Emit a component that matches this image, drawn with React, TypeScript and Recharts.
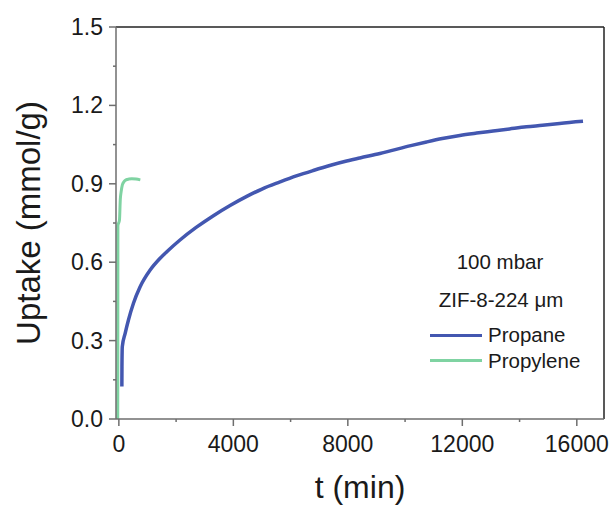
import React from 'react';
import { LineChart, Line, XAxis, YAxis, ReferenceLine, Legend } from 'recharts';

const propaneT = [105, 108, 120, 220, 335, 510, 743, 1093, 1441, 1675, 2136, 2700, 3303, 3900, 4468, 5000, 5630, 6200, 6793, 7400, 7958, 8422, 9120, 9585, 10200, 10750, 11300, 11913, 12500, 13075, 13650, 14240, 14800, 15400, 16217];
const propaneU = [0.124, 0.2, 0.277, 0.328, 0.379, 0.443, 0.506, 0.57, 0.615, 0.64, 0.685, 0.733, 0.778, 0.818, 0.852, 0.88, 0.907, 0.93, 0.951, 0.971, 0.987, 0.999, 1.016, 1.029, 1.046, 1.06, 1.073, 1.085, 1.094, 1.102, 1.11, 1.118, 1.124, 1.131, 1.139];

const propyleneT = [-40, -38, -36, -34, 20, 50, 80, 120, 180, 250, 350, 450, 600, 750];
const propyleneU = [0, 0.13, 0.4, 0.74, 0.76, 0.84, 0.87, 0.895, 0.908, 0.915, 0.918, 0.919, 0.918, 0.915];

const xTicks = [0, 2000, 4000, 6000, 8000, 10000, 12000, 14000, 16000];
const xLabelTicks = [0, 4000, 8000, 12000, 16000];
const yTicks = [0, 0.15, 0.3, 0.45, 0.6, 0.75, 0.9, 1.05, 1.2, 1.35, 1.5];
const yLabelTicks = ['0.0', '0.3', '0.6', '0.9', '1.2', '1.5'];

const seriesNames = ['Propane', 'Propylene'];
const legendHeader = ['100 mbar', 'ZIF-8-224 μm'];

const propaneData = propaneT.map((t, i) => ({ t, u: propaneU[i] }));
const propyleneData = propyleneT.map((t, i) => ({ t, u: propyleneU[i] }));

const FONT = '"Liberation Sans", Arial, sans-serif';
const BLUE = '#4357b0';
const GREEN = '#7fd3a2';
const AXIS = '#6e6e6e';

const XTick = (props: any) => {
  const { x, y, payload } = props;
  const v = payload.value;
  const major = xLabelTicks.includes(v);
  return (
    <g>
      <line x1={x} x2={x} y1={y} y2={y + (major ? 7 : 3)} stroke={AXIS} strokeWidth={1.5} />
      {major && (
        <text x={x} y={y + 33} textAnchor="middle" fontFamily={FONT} fontSize={23} fill="#1a1a1a">
          {String(v)}
        </text>
      )}
    </g>
  );
};

const YTick = (props: any) => {
  const { x, y, payload } = props;
  const v = payload.value as number;
  const lbl = v.toFixed(1);
  const major = yLabelTicks.includes(lbl) && Math.abs(v - parseFloat(lbl)) < 1e-6;
  return (
    <g>
      <line x1={x} x2={x - (major ? 7 : 3)} y1={y} y2={y} stroke={AXIS} strokeWidth={1.5} />
      {major && (
        <text x={x - 13} y={y + 8} textAnchor="end" fontFamily={FONT} fontSize={23} fill="#1a1a1a">
          {lbl}
        </text>
      )}
    </g>
  );
};

const LegendContent = () => (
  <div style={{ position: 'relative', width: 215, height: 140, fontFamily: FONT, fontSize: 20.5, color: '#1a1a1a' }}>
    <div style={{ position: 'absolute', left: 0, width: 200, top: 10, lineHeight: '24px', textAlign: 'center' }}>{legendHeader[0]}</div>
    <div style={{ position: 'absolute', left: 0, width: 202, top: 48, lineHeight: '24px', textAlign: 'center' }}>{legendHeader[1]}</div>
    {seriesNames.map((n, i) => (
      <div key={n} style={{ position: 'absolute', left: 30, top: 83 + i * 25.7, height: 24, display: 'flex', alignItems: 'center', lineHeight: '24px' }}>
        <span style={{ display: 'inline-block', width: 52, height: 3, background: i === 0 ? BLUE : GREEN, marginRight: 6 }} />
        <span>{n}</span>
      </div>
    ))}
  </div>
);

export default function App() {
  return (
    <div style={{ position: 'absolute', left: 0, top: 0, width: 615, height: 510, background: '#fff' }}>
      <LineChart width={615} height={510} margin={{ top: 27, right: 11, bottom: 0, left: 0 }}>
        <XAxis
          type="number"
          dataKey="t"
          domain={[-100, 16950]}
          allowDataOverflow
          ticks={xTicks}
          interval={0}
          height={91}
          tickSize={0}
          tickMargin={0}
          tickLine={false}
          axisLine={{ stroke: AXIS, strokeWidth: 1.5 }}
          tick={<XTick />}
          label={(p: any) => (
            <text x={360} y={498} textAnchor="middle" fontFamily={FONT} fontSize={32} fill="#1a1a1a">t (min)</text>
          )}
        />
        <YAxis
          type="number"
          dataKey="u"
          domain={[0, 1.5]}
          allowDataOverflow
          ticks={yTicks}
          interval={0}
          width={116}
          tickSize={0}
          tickMargin={0}
          tickLine={false}
          axisLine={{ stroke: AXIS, strokeWidth: 1.5 }}
          tick={<YTick />}
          label={(p: any) => (
            <text x={40} y={223} textAnchor="middle" transform="rotate(-90 40 223)" fontFamily={FONT} fontSize={33} fill="#1a1a1a">
              Uptake (mmol/g)
            </text>
          )}
        />
        <ReferenceLine y={1.5} stroke="#222" strokeWidth={1.5} />
        <ReferenceLine x={16950} stroke="#222" strokeWidth={1.5} />
        <Line data={propaneData} dataKey="u" name={seriesNames[0]} type="monotone" stroke={BLUE} strokeWidth={3.5} dot={false} isAnimationActive={false} />
        <Line data={propyleneData} dataKey="u" name={seriesNames[1]} type="monotone" stroke={GREEN} strokeWidth={3} dot={false} isAnimationActive={false} />
        <Legend
          layout="horizontal"
          verticalAlign="middle"
          align="center"
          content={<LegendContent />}
          wrapperStyle={{ position: 'absolute', left: 400, top: 240, width: 215, height: 140 }}
        />
      </LineChart>
    </div>
  );
}
